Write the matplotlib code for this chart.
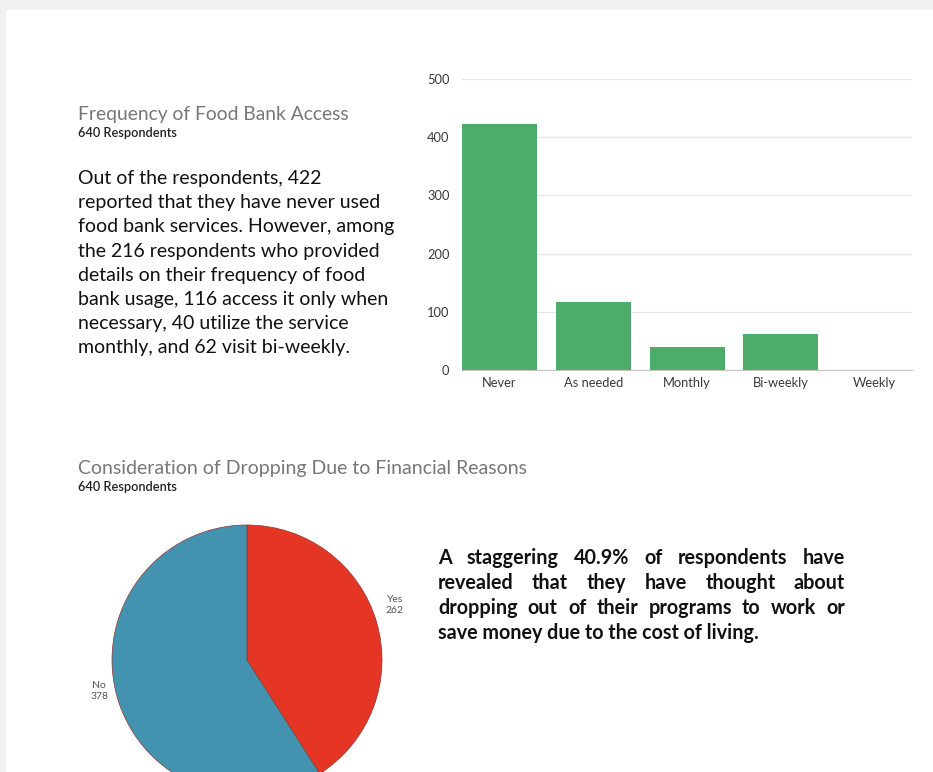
import matplotlib.pyplot as plt
from matplotlib.patches import Rectangle

W, H = 933, 772

# food bank usage counts
freq_labels = ['Never', 'As needed', 'Monthly', 'Bi-weekly', 'Weekly']
freq_counts = [422, 116, 40, 62, 0]

# considered dropping out
drop_labels = ['Yes', 'No']
drop_counts = [262, 378]

body_lines = [
    'Out of the respondents, 422',
    'reported that they have never used',
    'food bank services. However, among',
    'the 216 respondents who provided',
    'details on their frequency of food',
    'bank usage, 116 access it only when',
    'necessary, 40 utilize the service',
    'monthly, and 62 visit bi-weekly.',
]

bold_lines = [
    'A staggering 40.9% of respondents have',
    'revealed that they have thought about',
    'dropping out of their programs to work or',
    'save money due to the cost of living.',
]

font = 'Lato'
green = '#4dac69'
red = '#e53524'
blue = '#4393b0'


def fx(x):
    return x / W


def fy(y):
    return 1 - y / H


fig = plt.figure(figsize=(W / 100, H / 100), dpi=100)
fig.patch.set_facecolor('#f1f1f1')
fig.patches.append(Rectangle((fx(6), 0), 1, fy(10), transform=fig.transFigure,
                             facecolor='white', edgecolor='none', zorder=-5))

# ---- bar chart
ax = fig.add_axes([fx(462), fy(370), fx(912) - fx(462), fy(79) - fy(370)])
x = list(range(len(freq_labels)))
ax.bar(x, freq_counts, width=0.8, color=green, zorder=3)
ax.set_xlim(-0.4, 4.4)
ax.set_ylim(0, 500)
ax.set_yticks([0, 100, 200, 300, 400, 500])
ax.set_xticks(x)
ax.set_xticklabels(freq_labels)
ax.grid(axis='y', color='#e6e6e6', lw=0.9, zorder=0)
for s in ['top', 'right', 'left']:
    ax.spines[s].set_visible(False)
ax.spines['bottom'].set_color('#c4c4c4')
ax.spines['bottom'].set_zorder(4)
ax.tick_params(length=0, labelsize=9.3, labelcolor='#3a3a3a')
ax.tick_params(axis='y', pad=9)
ax.tick_params(axis='x', pad=5)
for lab in ax.get_xticklabels() + ax.get_yticklabels():
    lab.set_family(font)
ax.set_facecolor('none')

fig.text(fx(78), fy(120), 'Frequency of Food Bank Access', family=font,
         fontsize=13.9, color='#777777', va='baseline')
fig.text(fx(78), fy(137), '640 Respondents', family=font, fontsize=9.2,
         color='#222222', va='baseline', weight='semibold')
for i, line in enumerate(body_lines):
    fig.text(fx(78), fy(184 + 24.2 * i), line, family=font, fontsize=14,
             color='#111111', va='baseline')

# ---- pie chart
fig.text(fx(78), fy(474), 'Consideration of Dropping Due to Financial Reasons',
         family=font, fontsize=14, color='#777777', va='baseline')
fig.text(fx(78), fy(491), '640 Respondents', family=font, fontsize=9.2,
         color='#222222', va='baseline', weight='semibold')

pax = fig.add_axes([fx(112), fy(795), fx(382) - fx(112), fy(525) - fy(795)])
pie_labels = [f'{l}\n{v}' for l, v in zip(drop_labels, drop_counts)]
wedges, texts = pax.pie(drop_counts, colors=[red, blue], startangle=90,
                        counterclock=False, labels=pie_labels,
                        labeldistance=1.14,
                        wedgeprops=dict(linewidth=0.5, edgecolor='#8a3a30'),
                        textprops=dict(fontsize=7.5, color='#555555',
                                       family=font, linespacing=1.3))
for t in texts:
    tx, ty = t.get_position()
    t.set_position((tx, ty + 0.09))
    t.set_ha('center')
pax.set_xlim(-1, 1)
pax.set_ylim(-1, 1)

# justified bold paragraph
fig.canvas.draw()
r = fig.canvas.get_renderer()
left, right = 438, 845
for i, line in enumerate(bold_lines):
    yb = fy(564 + 25 * i)
    words = line.split()
    if i == len(bold_lines) - 1:
        fig.text(fx(left), yb, line, family=font, fontsize=14.2,
                 weight='bold', color='#111111', va='baseline')
        continue
    objs = [fig.text(0, yb, w, family=font, fontsize=14.2, weight='bold',
                     color='#111111', va='baseline') for w in words]
    widths = [t.get_window_extent(renderer=r).width for t in objs]
    gap = (right - left - sum(widths)) / (len(words) - 1)
    pos = left
    for t, w in zip(objs, widths):
        t.set_x(fx(pos))
        pos += w + gap

fig.savefig('out.png', dpi=100)
